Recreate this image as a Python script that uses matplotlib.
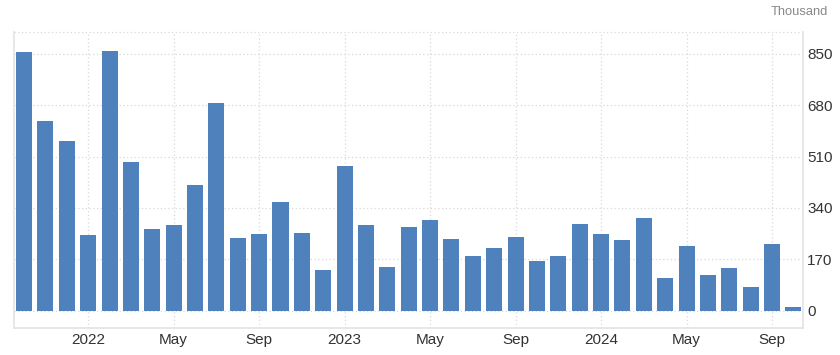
import matplotlib
matplotlib.use("Agg")
import matplotlib.pyplot as plt

plt.rcParams["font.family"] = ["Liberation Sans", "DejaVu Sans"]

months = [
    "2021-10", "2021-11", "2021-12",
    "2022-01", "2022-02", "2022-03", "2022-04", "2022-05", "2022-06",
    "2022-07", "2022-08", "2022-09", "2022-10", "2022-11", "2022-12",
    "2023-01", "2023-02", "2023-03", "2023-04", "2023-05", "2023-06",
    "2023-07", "2023-08", "2023-09", "2023-10", "2023-11", "2023-12",
    "2024-01", "2024-02", "2024-03", "2024-04", "2024-05", "2024-06",
    "2024-07", "2024-08", "2024-09", "2024-10",
]
values = [
    857, 628, 562,
    251, 860, 492, 270, 284, 416,
    688, 241, 254, 360, 257, 135,
    479, 284, 145, 277, 300, 237,
    181, 208, 244, 164, 181, 287,
    254, 234, 307, 108, 214, 118,
    141, 78, 221, 12,
]
tick_months = ["2022-01", "2022-05", "2022-09", "2023-01", "2023-05",
               "2023-09", "2024-01", "2024-05", "2024-09"]
tick_labels = ["2022", "May", "Sep", "2023", "May", "Sep", "2024", "May", "Sep"]
y_ticks = [0, 170, 340, 510, 680, 850]

fig = plt.figure(figsize=(8.4, 3.55), dpi=100)
ax = fig.add_axes([14 / 840, 1 - 327.7 / 355, (803 - 14) / 840, (327.7 - 32.3) / 355])

x = list(range(len(months)))
ax.bar(x, values, width=0.75, color="#4f81bd", zorder=2)

ax.set_xlim(-0.47, 36.45)
ax.set_ylim(-56, 921)

ax.set_xticks([months.index(m) for m in tick_months])
ax.set_xticklabels(tick_labels)
ax.set_yticks(y_ticks)
ax.yaxis.tick_right()

ax.tick_params(axis="both", length=0, labelsize=11, colors="#333333")
ax.tick_params(axis="x", pad=4)
ax.tick_params(axis="y", pad=3)

ax.grid(True, linestyle=(0, (1, 2)), color="#d9d9d9", linewidth=0.9, zorder=0)
for side in ["left", "bottom", "right"]:
    ax.spines[side].set_color("#e3e3e3")
    ax.spines[side].set_linewidth(1.2)
ax.spines["top"].set_visible(False)
ax.axhline(921, linestyle=(0, (1, 2)), color="#d9d9d9", linewidth=0.9, clip_on=False)

fig.text(828 / 840, 1 - 12 / 355, "Thousand", ha="right", va="center",
         fontsize=9.3, color="#888888")

fig.savefig("out.png", dpi=100)
